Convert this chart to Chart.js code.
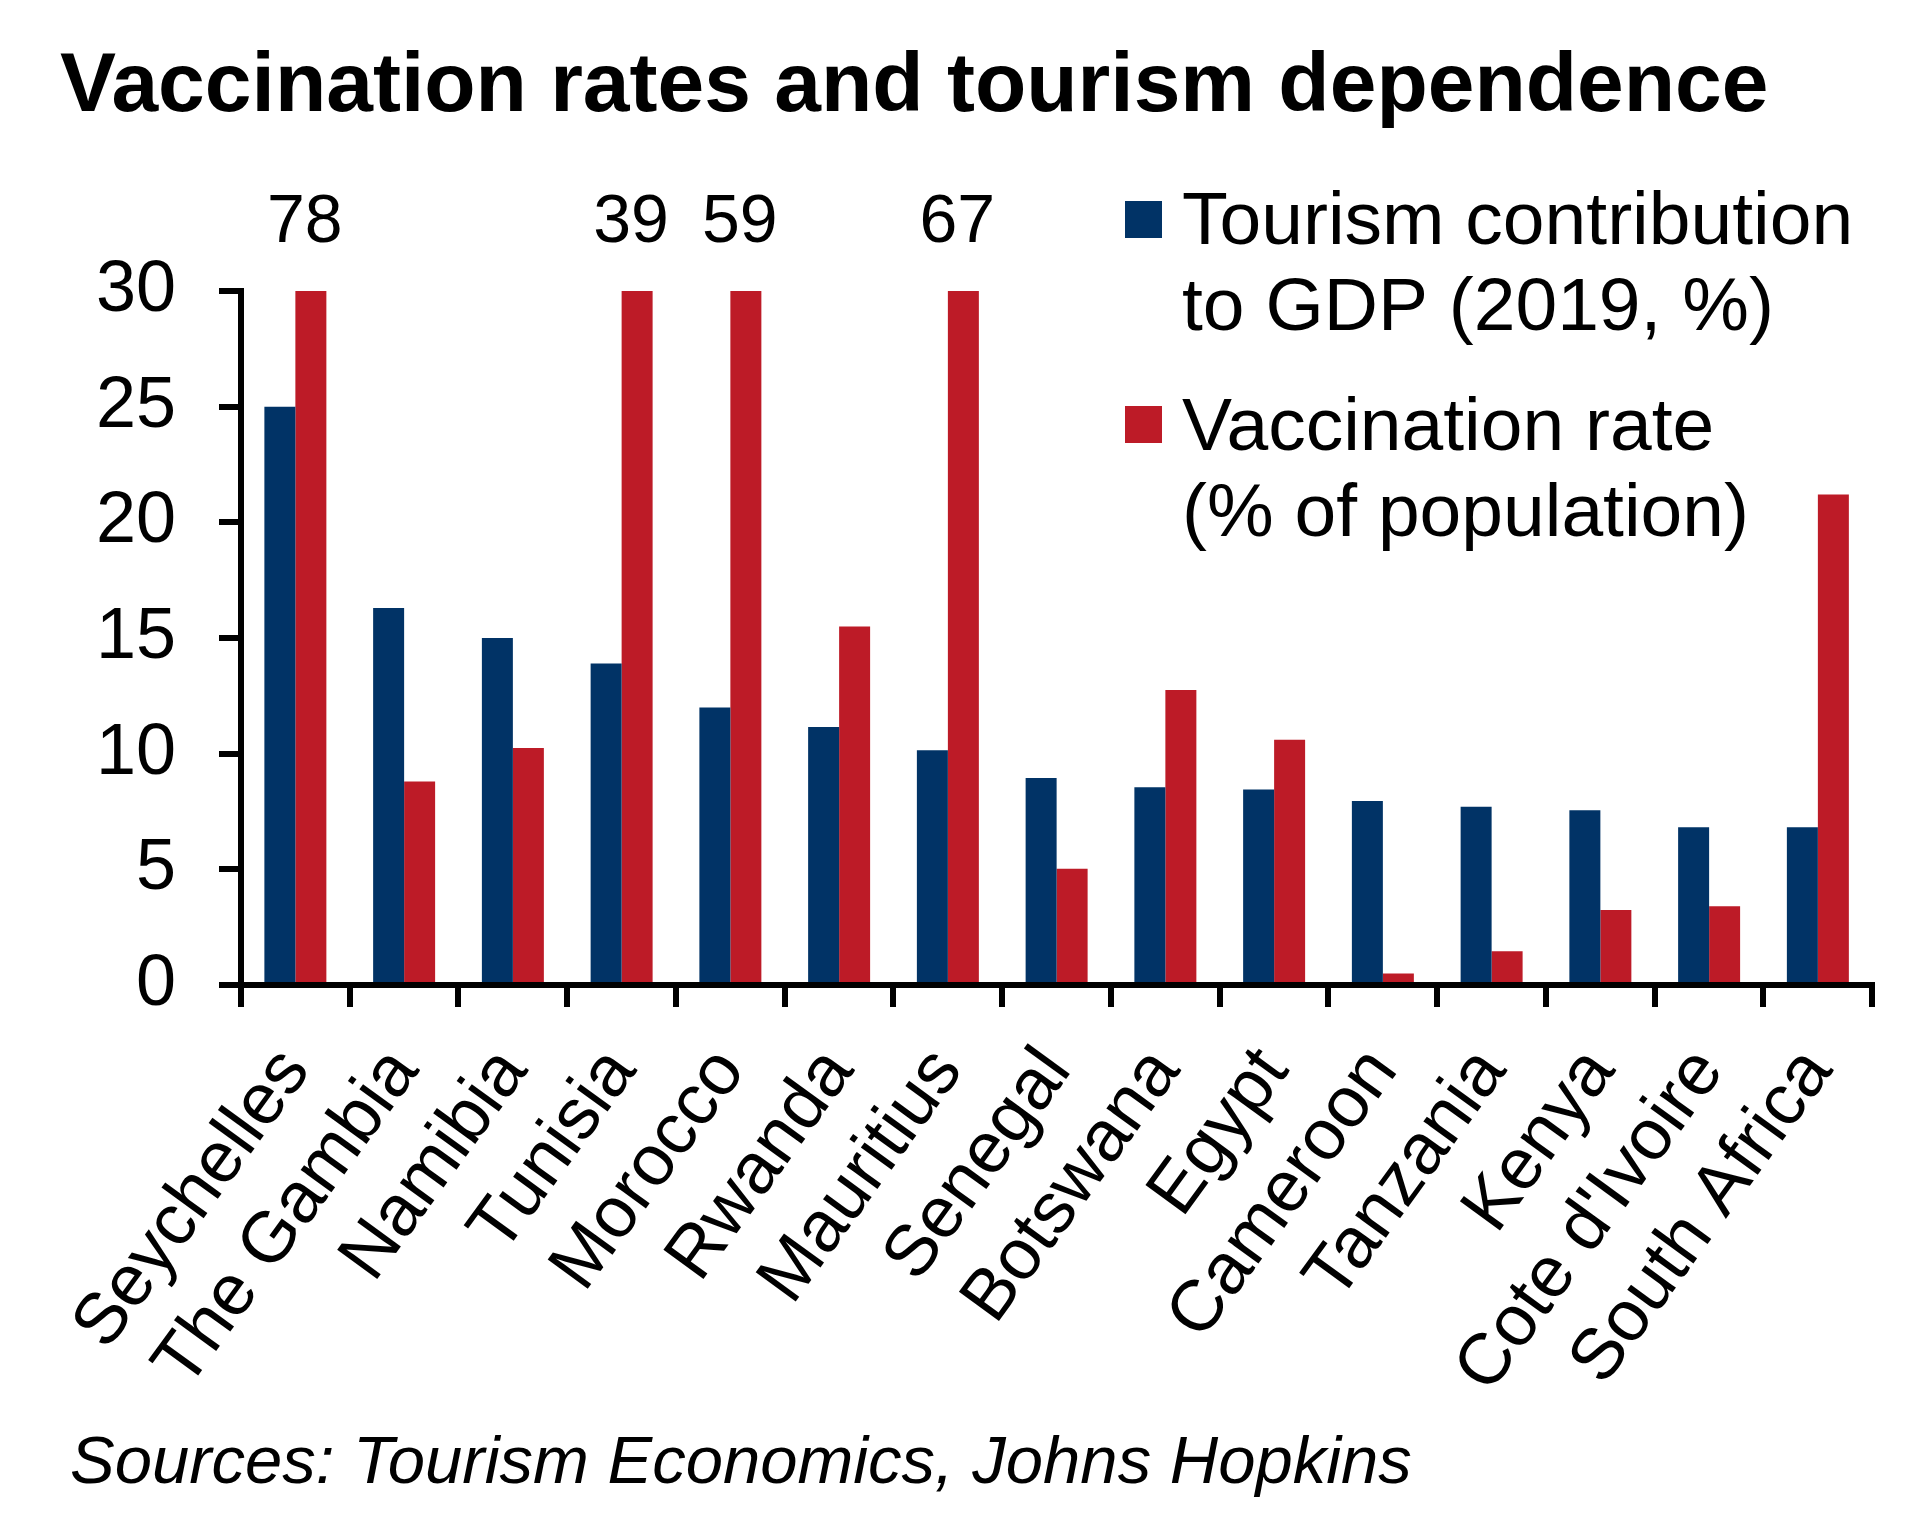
<html>
  <head>
    <title>Vaccination rates and tourism dependence</title>
    <script src="https://cdn.jsdelivr.net/npm/chart.js@4.4.1/dist/chart.umd.min.js"></script>
    <style>
      body{
        margin:0;
        background:#fff;
      }
      #wrap{
        width:1915px;
        height:1536px;
      }
    </style>
  </head>
  <body>
    <div id="wrap">
      <canvas id="bar-chart" width="1915" height="1536"></canvas>
    </div>
  </body>

  <script>
    var titleText = 'Vaccination rates and tourism dependence';
    var sourceText = 'Sources: Tourism Economics, Johns Hopkins';

    var countries = ['Seychelles', 'The Gambia', 'Namibia', 'Tunisia', 'Morocco', 'Rwanda', 'Mauritius',
      'Senegal', 'Botswana', 'Egypt', 'Cameroon', 'Tanzania', 'Kenya', "Cote d'Ivoire", 'South Africa'];

    // tourism contribution to GDP, 2019, %
    var tourismGdp = [25.0, 16.3, 15.0, 13.9, 12.0, 11.15, 10.15, 8.95, 8.55, 8.45, 7.95, 7.7, 7.55, 6.82, 6.82];
    // vaccination rate, % of population (bars above 30 are cut off, value written on top)
    var vaccinationRate = [78, 8.8, 10.25, 39, 59, 15.5, 67, 5.03, 12.75, 10.6, 0.5, 1.46, 3.24, 3.4, 21.2];

    var seriesNames = ['Tourism contribution to GDP (2019, %)', 'Vaccination rate (% of population)'];
    var legendLines = [['Tourism contribution', 'to GDP (2019, %)'], ['Vaccination rate', '(% of population)']];
    var seriesColors = ['#013366', '#BD1B27'];

    var yMin = 0;
    var yMax = 30;
    var yStep = 5;

    var FONT = '"Liberation Sans", Arial, sans-serif';

    // title, source, overflow values and the legend
    var decorations = {
      id: 'decorations',
      afterDraw: function(chart){
        var ctx = chart.ctx;
        var area = chart.chartArea;
        ctx.save();
        ctx.fillStyle = '#000';
        ctx.textBaseline = 'alphabetic';
        ctx.textAlign = 'left';

        ctx.font = 'bold 84px ' + FONT;
        ctx.fillText(titleText, 60, 111);

        ctx.font = 'italic 67px ' + FONT;
        ctx.fillText(sourceText, 70, 1483);

        // values that run past the top of the axis
        ctx.font = '68px ' + FONT;
        ctx.textAlign = 'center';
        var top = chart.scales.y.max;
        chart.data.datasets.forEach(function(ds, di){
          var meta = chart.getDatasetMeta(di);
          ds.data.forEach(function(v, i){
            if (v > top){
              ctx.fillText(String(v), meta.data[i].x - 6, area.top - 49);
            }
          });
        });

        // legend
        ctx.textAlign = 'left';
        ctx.font = '75px ' + FONT;
        for (var k = 0; k < legendLines.length; k++){
          var y0 = 201 + k * 205;
          ctx.fillStyle = chart.data.datasets[k].backgroundColor;
          ctx.fillRect(1125, y0, 37, 37);
          ctx.fillStyle = '#000';
          for (var j = 0; j < legendLines[k].length; j++){
            ctx.fillText(legendLines[k][j], 1182, 244 + k * 206 + j * 86);
          }
        }
        ctx.restore();
      }
    };

    new Chart(document.getElementById('bar-chart'), {
      type: 'bar',
      data: {
        labels: countries,
        datasets: [
          {
            label: seriesNames[0],
            backgroundColor: seriesColors[0],
            data: tourismGdp,
            clip: 0
          },
          {
            label: seriesNames[1],
            backgroundColor: seriesColors[1],
            data: vaccinationRate,
            clip: 0
          }
        ]
      },
      options: {
        responsive: false,
        animation: false,
        devicePixelRatio: 1,
        layout: {
          autoPadding: false,
          padding: { top: 291, right: 37, bottom: 0, left: 0 }
        },
        datasets: {
          bar: {
            categoryPercentage: 0.57,
            barPercentage: 1.0,
            borderWidth: 0
          }
        },
        plugins: {
          legend: { display: false },
          title: { display: false },
          tooltip: { enabled: false }
        },
        scales: {
          x: {
            offset: true,
            afterFit: function(scale){ scale.height = 1536 - 985; },
            border: { display: true, color: '#000', width: 6 },
            grid: {
              offset: true,
              drawOnChartArea: false,
              drawTicks: true,
              tickLength: 22,
              lineWidth: 6,
              color: '#000'
            },
            ticks: {
              autoSkip: false,
              minRotation: 54,
              maxRotation: 54,
              padding: 26,
              color: '#000',
              font: { family: FONT, size: 72 }
            }
          },
          y: {
            min: yMin,
            max: yMax,
            afterFit: function(scale){ scale.width = 241; },
            border: { display: true, color: '#000', width: 6 },
            grid: {
              drawOnChartArea: false,
              drawTicks: true,
              tickLength: 22,
              lineWidth: 6,
              color: '#000'
            },
            ticks: {
              stepSize: yStep,
              padding: 43,
              color: '#000',
              font: { family: FONT, size: 72 }
            }
          }
        }
      },
      plugins: [decorations]
    });
  </script>
</html>
